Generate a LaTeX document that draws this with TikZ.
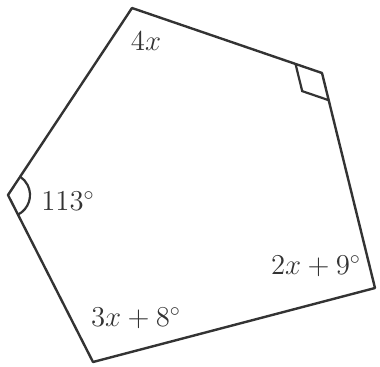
\documentclass[tikz,border=0pt]{standalone}
\usetikzlibrary{angles}
\begin{document}
\begin{tikzpicture}[x=0.5pt,y=0.5pt,
  edge/.style={draw=black!80,line width=1.2pt,line join=round},
  anglemark/.style={draw=black!80,line width=1.1pt},
  lbl/.style={text=black!80,font=\fontsize{14}{16}\selectfont,inner sep=0pt}]
\useasboundingbox (0,0) rectangle (380,-366);
\coordinate (T) at (132,-8);
\coordinate (R) at (322,-73);
\coordinate (BR) at (375,-288);
\coordinate (B) at (93,-362);
\coordinate (L) at (8,-195);
\draw[edge] (T) -- (R) -- (BR) -- (B) -- (L) -- cycle;
\pic[anglemark,angle radius=14pt] {right angle = T--R--BR};
\pic[anglemark,angle radius=11pt] {angle = B--L--T};
\node[lbl] (a) at (146,-41) {$4x$};
\node[lbl] (b) at (68,-201) {$113^\circ$};
\node[lbl] (c) at (316,-266) {$2x+9^\circ$};
\node[lbl] (d) at (136,-318) {$3x+8^\circ$};
\end{tikzpicture}
\end{document}
